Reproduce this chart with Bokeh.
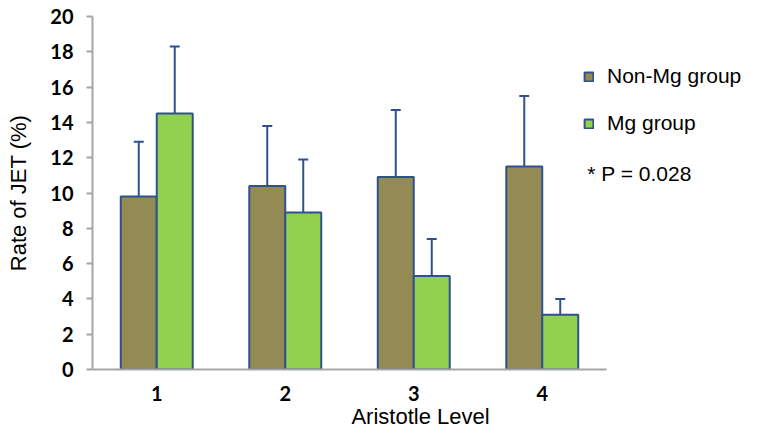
from bokeh.plotting import figure
from bokeh.models import ColumnDataSource, Whisker, TeeHead, Legend, LegendItem, Label, FixedTicker, Range1d
from bokeh.embed import file_html
from bokeh.resources import INLINE

levels = [1, 2, 3, 4]
level_labels = ["1", "2", "3", "4"]
non_mg = [9.8, 10.4, 10.9, 11.5]
non_mg_err = [12.9, 13.8, 14.7, 15.5]
mg = [14.5, 8.9, 5.3, 3.1]
mg_err = [18.3, 11.9, 7.4, 4.0]
y_ticks = [0, 2, 4, 6, 8, 10, 12, 14, 16, 18, 20]

bw = 0.28
off = 0.14
outline = "#2F528F"
c_non = "#948A54"
c_mg = "#92D050"
axis_grey = "#A6A6A6"

src_non = ColumnDataSource(dict(x=[l - off for l in levels], top=non_mg, up=non_mg_err))
src_mg = ColumnDataSource(dict(x=[l + off for l in levels], top=mg, up=mg_err))

p = figure(width=748, height=431, output_backend="svg", toolbar_location=None,
           x_range=Range1d(0.5, 5.605), y_range=Range1d(0, 20),
           min_border_left=92, min_border_right=0, min_border_top=16, min_border_bottom=57)
p.outline_line_color = None
p.xgrid.visible = False
p.ygrid.visible = False

r1 = p.vbar(x="x", top="top", width=bw, source=src_non, fill_color=c_non,
            line_color=outline, line_width=2)
r2 = p.vbar(x="x", top="top", width=bw, source=src_mg, fill_color=c_mg,
            line_color=outline, line_width=2)

for src in (src_non, src_mg):
    w = Whisker(base="x", lower="top", upper="up", source=src,
                line_color=outline, line_width=2,
                upper_head=TeeHead(size=10, line_color=outline, line_width=2),
                lower_head=None, level="underlay")
    p.add_layout(w)

# axes
p.yaxis.ticker = FixedTicker(ticks=y_ticks)
p.xaxis.ticker = FixedTicker(ticks=levels)
p.xaxis.bounds = (0.5, 4.5)
p.xaxis.major_label_overrides = {l: s for l, s in zip(levels, level_labels)}
for ax in (p.xaxis, p.yaxis):
    ax.axis_line_color = axis_grey
    ax.axis_line_width = 2
    ax.minor_tick_line_color = None
    ax.major_label_text_font = "Lato"
    ax.major_label_text_font_style = "bold"
    ax.major_label_text_font_size = "20px"
    ax.major_label_text_color = "#000000"
p.yaxis.major_tick_line_color = axis_grey
p.yaxis.major_tick_line_width = 2
p.yaxis.major_tick_out = 6
p.yaxis.major_tick_in = 0
p.yaxis.major_label_standoff = 13
p.xaxis.major_tick_line_color = None
p.xaxis.major_label_standoff = 10

p.yaxis.axis_label = "Rate of JET (%)"
p.yaxis.axis_label_text_font = "Liberation Sans"
p.yaxis.axis_label_text_font_style = "normal"
p.yaxis.axis_label_text_font_size = "22px"
p.yaxis.axis_label_text_color = "#000000"
p.yaxis.axis_label_standoff = 16
p.xaxis.axis_label = "Aristotle Level"
p.xaxis.axis_label_text_font = "Liberation Sans"
p.xaxis.axis_label_text_font_style = "normal"
p.xaxis.axis_label_text_font_size = "22px"
p.xaxis.axis_label_text_color = "#000000"
p.xaxis.axis_label_standoff = 0

legend = Legend(items=[LegendItem(label="Non-Mg group", renderers=[r1]),
                       LegendItem(label="Mg group", renderers=[r2])],
                location=(491, 233), orientation="vertical",
                glyph_width=11, glyph_height=11, label_standoff=13,
                label_height=26, spacing=21, padding=0, margin=0,
                border_line_color=None, background_fill_alpha=0,
                label_text_font="Liberation Sans", label_text_font_size="21px",
                label_text_color="#000000")
p.add_layout(legend, "center")

p.add_layout(Label(x=4.35, y=11.12, text="* P = 0.028", text_font="Liberation Sans",
                   text_font_size="21px", text_baseline="middle", text_color="#000000"))

open("out.html", "w").write(file_html(p, INLINE))
